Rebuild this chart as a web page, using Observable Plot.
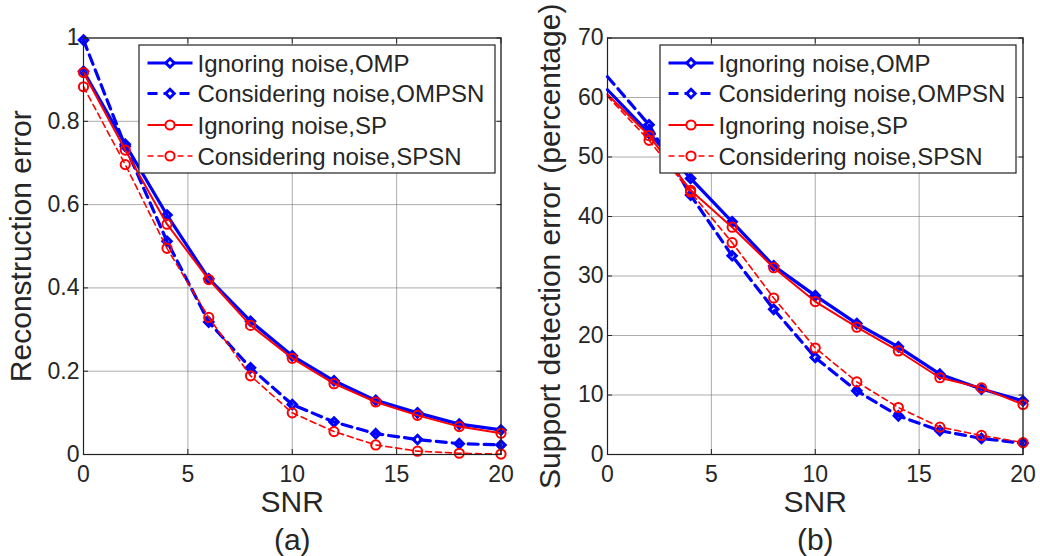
<!DOCTYPE html>
<html><head><meta charset="utf-8">
<script src="https://cdn.jsdelivr.net/npm/d3@7"></script>
<script src="https://cdn.jsdelivr.net/npm/@observablehq/plot@0.6"></script>
<style>
body{margin:0;background:#fff;}
#wrap{position:relative;width:1040px;height:556px;font-family:"Liberation Sans",Arial,sans-serif;overflow:hidden;}
.panel{position:absolute;top:0;}
.legend{position:absolute;}
</style></head><body><div id="wrap"></div>
<script>
// ---- data ----
const snr = [0, 2, 4, 6, 8, 10, 12, 14, 16, 18, 20];
const xTicks = [0, 5, 10, 15, 20];

const seriesNames = ["Ignoring noise,OMP", "Considering noise,OMPSN", "Ignoring noise,SP", "Considering noise,SPSN"];

// (a) Reconstruction error
const recOMP   = [0.920, 0.745, 0.575, 0.422, 0.320, 0.237, 0.177, 0.130, 0.100, 0.073, 0.059];
const recOMPSN = [0.995, 0.740, 0.512, 0.318, 0.208, 0.120, 0.078, 0.050, 0.036, 0.026, 0.023];
const recSP    = [0.917, 0.731, 0.553, 0.420, 0.310, 0.231, 0.170, 0.126, 0.094, 0.067, 0.051];
const recSPSN  = [0.883, 0.696, 0.495, 0.329, 0.189, 0.100, 0.055, 0.023, 0.008, 0.003, 0.001];
const recTicks = [0, 0.2, 0.4, 0.6, 0.8, 1];
const recTickLabels = ["0", "0.2", "0.4", "0.6", "0.8", "1"];

// (b) Support detection error (percentage)
const supOMP   = [61.3, 54.0, 46.4, 39.1, 31.7, 26.7, 22.0, 18.1, 13.5, 11.0, 9.0];
const supOMPSN = [63.5, 55.4, 43.6, 33.4, 24.4, 16.3, 10.7, 6.5, 4.0, 2.7, 1.9];
const supSP    = [60.5, 53.6, 44.4, 38.2, 31.4, 25.7, 21.4, 17.4, 12.9, 11.2, 8.4];
const supSPSN  = [60.2, 52.8, 44.1, 35.6, 26.3, 17.9, 12.2, 7.9, 4.6, 3.2, 2.0];
const supTicks = [0, 10, 20, 30, 40, 50, 60, 70];
const supTickLabels = ["0", "10", "20", "30", "40", "50", "60", "70"];

// ---- styles per series ----
const styles = [
  {color: "#0000ff", width: 3.2, dash: null,   symbol: "diamond2", r: 3.8, mw: 3},
  {color: "#0000ff", width: 3.2, dash: "10,6", symbol: "diamond2", r: 3.8, mw: 3},
  {color: "#ff0000", width: 2,   dash: null,   symbol: "circle",   r: 4.6, mw: 2},
  {color: "#ff0000", width: 1.6, dash: "6,4",  symbol: "circle",   r: 4.6, mw: 2}
];

const textColor = "#262626";
const FONT = "'Liberation Sans', Arial, sans-serif";

function makePanel({values, yDomain, yTicks, yTickLabels, yLabel, tag, marginLeft, marginRight, ylabelDx, markersAtZero}) {
  const marks = [
    Plot.gridX({ticks: xTicks, stroke: "#808080", strokeOpacity: 0.65, strokeWidth: 1}),
    Plot.gridY({ticks: yTicks, stroke: "#808080", strokeOpacity: 0.65, strokeWidth: 1})
  ];
  values.forEach((vals, k) => {
    const s = styles[k];
    const d = snr.map((x, i) => ({x, y: vals[i]}));
    marks.push(Plot.line(d, {x: "x", y: "y", stroke: s.color, strokeWidth: s.width, strokeDasharray: s.dash}));
    marks.push(Plot.dot(markersAtZero ? d : d.filter(p => p.x > 0), {x: "x", y: "y", symbol: s.symbol, r: s.r, stroke: s.color, strokeWidth: s.mw, fill: "none"}));
  });
  marks.push(
    Plot.frame({stroke: "#222", strokeWidth: 1.2}),
    Plot.axisX({ticks: xTicks, anchor: "bottom", tickSize: -5, text: null, label: null, stroke: "#222"}),
    Plot.axisX({ticks: xTicks, anchor: "top", tickSize: -5, text: null, label: null, stroke: "#222"}),
    Plot.axisY({ticks: yTicks, anchor: "left", tickSize: -5, text: null, label: null, stroke: "#222"}),
    Plot.axisY({ticks: yTicks, anchor: "right", tickSize: -5, text: null, label: null, stroke: "#222"}),
    Plot.axisX({ticks: xTicks, anchor: "bottom", tickSize: 0, tickPadding: 11, fontSize: 23, label: null, fill: textColor, tickFormat: d => String(d)}),
    Plot.axisY({ticks: yTicks, anchor: "left", tickSize: 0, tickPadding: 4, fontSize: 23, label: null, fill: textColor, tickFormat: (d, i) => yTickLabels[i]}),
    Plot.text(["SNR"], {frameAnchor: "bottom", dy: 48, fontSize: 30, fill: textColor, lineAnchor: "middle"}),
    Plot.text([tag], {frameAnchor: "bottom", dy: 86, fontSize: 30, fill: textColor, lineAnchor: "middle"}),
    Plot.text([yLabel], {frameAnchor: "left", dx: ylabelDx, rotate: -90, fontSize: 30, fill: textColor, lineAnchor: "middle", textAnchor: "middle"})
  );
  return Plot.plot({
    width: 520, height: 556,
    marginLeft, marginRight, marginTop: 37.5, marginBottom: 102,
    x: {domain: [0, 20]},
    y: {domain: yDomain},
    style: {fontFamily: FONT, background: "white", overflow: "visible"},
    marks
  });
}

function makeLegend(left) {
  const w = 356, h = 128;
  const svg = d3.create("svg").attr("width", w + 2).attr("height", h + 2)
    .attr("class", "legend").style("left", (left - 1) + "px").style("top", "44px");
  svg.append("rect").attr("x", 1).attr("y", 1).attr("width", w).attr("height", h)
    .attr("fill", "white").attr("stroke", "#222").attr("stroke-width", 1.2);
  const rowY = [19, 49.5, 81, 112];
  seriesNames.forEach((name, k) => {
    const s = styles[k];
    const y = rowY[k];
    const g = svg.append("g");
    g.append("line").attr("x1", 9.5).attr("x2", 54.5).attr("y1", y).attr("y2", y)
      .attr("stroke", s.color).attr("stroke-width", s.width)
      .attr("stroke-dasharray", s.dash);
    if (s.symbol === "circle") {
      g.append("circle").attr("cx", 32).attr("cy", y).attr("r", s.r)
        .attr("fill", "white").attr("stroke", s.color).attr("stroke-width", s.mw);
    } else {
      g.append("path").attr("transform", `translate(32,${y})`)
        .attr("d", d3.symbol(d3.symbolDiamond2, Math.PI * s.r * s.r)())
        .attr("fill", "white").attr("stroke", s.color).attr("stroke-width", s.mw);
    }
    g.append("text").attr("x", 59.5).attr("y", y + 8.6)
      .attr("font-family", FONT).attr("font-size", 24).attr("fill", textColor)
      .text(name);
  });
  return svg.node();
}

const wrap = document.getElementById("wrap");

const pa = makePanel({
  values: [recOMP, recOMPSN, recSP, recSPSN],
  yDomain: [0, 1], yTicks: recTicks, yTickLabels: recTickLabels,
  yLabel: "Reconstruction error", tag: "(a)",
  marginLeft: 83, marginRight: 19.5, ylabelDx: -62, markersAtZero: true
});
pa.classList.add("panel"); pa.style.left = "0px";
wrap.appendChild(pa);

const pb = makePanel({
  values: [supOMP, supOMPSN, supSP, supSPSN],
  yDomain: [0, 70], yTicks: supTicks, yTickLabels: supTickLabels,
  yLabel: "Support detection error (percentage)", tag: "(b)",
  marginLeft: 87, marginRight: 17.5, ylabelDx: -57, markersAtZero: false
});
pb.classList.add("panel"); pb.style.left = "520px";
wrap.appendChild(pb);

wrap.appendChild(makeLegend(138.5));
wrap.appendChild(makeLegend(659.5));
</script>
</body></html>
